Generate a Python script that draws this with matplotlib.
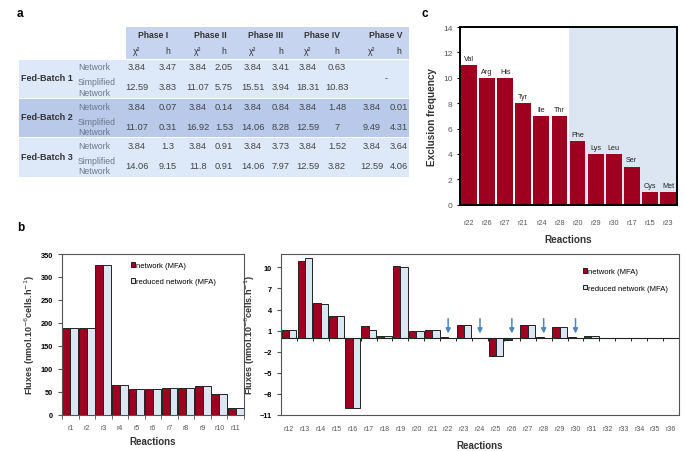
import numpy as np
import matplotlib
matplotlib.use("Agg")
import matplotlib.pyplot as plt
from matplotlib.patches import Rectangle

plt.rcParams['font.family'] = ['Liberation Sans', 'DejaVu Sans']

# ---------------- data ----------------
# panel a: table
phases = ["Phase I", "Phase II", "Phase III", "Phase IV", "Phase V"]
batches = ["Fed-Batch 1", "Fed-Batch 2", "Fed-Batch 3"]
fb1_network = ["3.84", "3.47", "3.84", "2.05", "3.84", "3.41", "3.84", "0.63", "", ""]
fb1_simplified = ["12.59", "3.83", "11.07", "5.75", "15.51", "3.94", "18.31", "10.83", "", ""]
fb2_network = ["3.84", "0.07", "3.84", "0.14", "3.84", "0.84", "3.84", "1.48", "3.84", "0.01"]
fb2_simplified = ["11.07", "0.31", "16.92", "1.53", "14.06", "8.28", "12.59", "7", "9.49", "4.31"]
fb3_network = ["3.84", "1.3", "3.84", "0.91", "3.84", "3.73", "3.84", "1.52", "3.84", "3.64"]
fb3_simplified = ["14.06", "9.15", "11.8", "0.91", "14.06", "7.97", "12.59", "3.82", "12.59", "4.06"]

# panel b, left
left_rxn = ["r1", "r2", "r3", "r4", "r5", "r6", "r7", "r8", "r9", "r10", "r11"]
left_network = [188, 188, 326, 65, 56, 56, 58, 59, 63, 46, 15]
left_reduced = [188, 188, 326, 65, 56, 56, 58, 59, 63, 46, 15]

# panel b, right
right_rxn = ["r%d" % i for i in range(12, 37)]
right_network = [1.15, 10.85, 4.9, 3.1, -10.0, 1.6, 0.3, 10.2, 0.95, 1.15, 0.1, 1.8, 0.0,
                 -2.65, -0.3, 1.8, 0.1, 1.5, 0.1, 0.3, 0, 0, 0, 0, 0]
right_reduced = [1.15, 11.4, 4.8, 3.1, -10.0, 1.15, 0.3, 10.1, 0.95, 1.15, 0.0, 1.8, 0.0,
                 -2.65, 0.0, 1.8, 0.0, 1.5, 0.0, 0.3, 0, 0, 0, 0, 0]
arrow_rxn = ["r22", "r24", "r26", "r28", "r30"]

# panel c
c_rxn = ["r22", "r26", "r27", "r21", "r24", "r28", "r20", "r29", "r30", "r17", "r15", "r23"]
c_amino = ["Val", "Arg", "His", "Tyr", "Ile", "Thr", "Phe", "Lys", "Leu", "Ser", "Cys", "Met"]
c_freq = [11, 10, 10, 8, 7, 7, 5, 4, 4, 3, 1, 1]

RED = "#a0001f"
LIGHT = "#dce6f2"
W, H = 685, 452


def px(l, t, r, b):
    return [l / W, 1 - b / H, (r - l) / W, (b - t) / H]


fig = plt.figure(figsize=(6.85, 4.52), dpi=100)

# ---------------- panel a: table ----------------
ax_t = fig.add_axes([0, 0, 1, 1])
ax_t.set_xlim(0, W)
ax_t.set_ylim(H, 0)
ax_t.axis("off")

ax_t.add_patch(Rectangle((126, 28), 283, 32, color="#c6d4ef", lw=0))
band_colors = ["#dde9f9", "#b9c9ea", "#dde9f9"]
for k, c in enumerate(band_colors):
    ax_t.add_patch(Rectangle((19, 60.5 + k * 39.3), 390, 38.5, color=c, lw=0))

col_x = [137, 168, 198, 224, 253, 281, 308, 337, 372, 399]
phase_x = [153, 210, 266, 322, 386]
for p, x in zip(phases, phase_x):
    ax_t.text(x, 35, p, ha="center", va="center", fontsize=6.2, fontweight="bold", color="#333333")
for j, x in enumerate(col_x):
    ax_t.text(x, 52, "χ²" if j % 2 == 0 else "h", ha="center", va="center",
              fontsize=6.2, color="#333333")

rows = [(fb1_network, fb1_simplified), (fb2_network, fb2_simplified), (fb3_network, fb3_simplified)]
for k, (name, (net, simp)) in enumerate(zip(batches, rows)):
    y0 = 60.5 + k * 39.3
    ax_t.text(21, y0 + 18, name, ha="left", va="center", fontsize=6.5,
              fontweight="bold", color="#333333")
    ax_t.text(78, y0 + 7.5, "Network", ha="left", va="center", fontsize=6.2, color="#6b7686")
    ax_t.text(78, y0 + 27.5, "Simplified\nNetwork", ha="left", va="center", fontsize=6.2,
              color="#6b7686", linespacing=1.2)
    for j, x in enumerate(col_x):
        ax_t.text(x, y0 + 7.5, net[j], ha="center", va="center", fontsize=6.7, color="#444444")
        ax_t.text(x, y0 + 27.5, simp[j], ha="center", va="center", fontsize=6.7, color="#444444")
ax_t.text(386, 79, "-", ha="center", va="center", fontsize=6.5, color="#444444")

# ---------------- panel c ----------------
ax_c = fig.add_axes(px(460, 28, 677, 205.7))
xc = np.arange(len(c_rxn))
ax_c.axvspan(5.55, 11.5, color=LIGHT, lw=0, zorder=0)
ax_c.bar(xc, c_freq, width=0.88, color=RED, zorder=2)
for x, v, a in zip(xc, c_freq, c_amino):
    ax_c.text(x, v + 0.25, a, ha="center", va="bottom", fontsize=5.2, color="#222222")
ax_c.set_xlim(-0.5, 11.5)
ax_c.set_ylim(0, 14)
ax_c.set_yticks(range(0, 15, 2))
ax_c.set_xticks(xc)
ax_c.set_xticklabels(c_rxn)
ax_c.tick_params(axis="x", length=0, labelsize=5.2, labelcolor="#555555", pad=10)
ax_c.tick_params(axis="y", length=2, labelsize=6, labelcolor="#555555")
for s in ax_c.spines.values():
    s.set_linewidth(1.4)
    s.set_color("black")
ax_c.set_xlabel("Reactions", fontsize=7.2, fontweight="bold", color="#333333", labelpad=6)
ax_c.set_ylabel("Exclusion frequency", fontsize=7.2, fontweight="bold", color="#333333", labelpad=4)

# ---------------- panel b, left ----------------
ylab = "Fluxes (nmol.10$^{-6}$cells.h$^{-1}$)"
ax_l = fig.add_axes(px(62, 255, 244, 415.7))
xl = np.arange(len(left_rxn))
ax_l.bar(xl - 0.24, left_network, width=0.48, color=RED, edgecolor="#222222", lw=0.7,
         label="network (MFA)")
ax_l.bar(xl + 0.24, left_reduced, width=0.48, color=LIGHT, edgecolor="#222222", lw=0.7,
         label="reduced network (MFA)")
ax_l.set_xlim(-0.5, len(left_rxn) - 0.5)
ax_l.set_ylim(0, 350)
ax_l.set_yticks(range(0, 351, 50))
ax_l.set_xticks(xl)
ax_l.set_xticklabels(left_rxn)
ax_l.set_xticks(np.arange(-0.5, len(left_rxn), 1), minor=True)
ax_l.tick_params(axis="x", which="major", length=0, labelsize=5, labelcolor="#555555", pad=7)
ax_l.tick_params(axis="x", which="minor", length=3, color="#555555")
ax_l.tick_params(axis="y", length=3, labelsize=5.3, color="#555555")
for t in ax_l.get_yticklabels():
    t.set_fontweight("bold")
for s in ax_l.spines.values():
    s.set_color("#555555")
    s.set_linewidth(0.8)
ax_l.set_xlabel("Reactions", fontsize=7, fontweight="bold", color="#333333", labelpad=3)
ax_l.set_ylabel(ylab, fontsize=6.5, fontweight="bold", color="#333333", labelpad=3)
ax_l.legend(loc="upper left", bbox_to_anchor=(0.36, 0.97), frameon=False, fontsize=5.5,
            handlelength=0.6, handleheight=0.6, handletextpad=0.15, labelspacing=1.2,
            borderaxespad=0)

# ---------------- panel b, right ----------------
ax_r = fig.add_axes(px(281, 255, 679, 416))
xr = np.arange(len(right_rxn))
ax_r.bar(xr - 0.23, right_network, width=0.46, color=RED, edgecolor="#222222", lw=0.7,
         label="network (MFA)")
ax_r.bar(xr + 0.23, right_reduced, width=0.46, color=LIGHT, edgecolor="#222222", lw=0.7,
         label="reduced network (MFA)")
ax_r.axhline(0, color="#222222", lw=0.8)
ax_r.vlines(np.arange(0.5, len(right_rxn) - 1, 1), -0.45, 0, color="#222222", lw=0.7)
for r in arrow_rxn:
    i = right_rxn.index(r)
    ax_r.annotate("", xy=(i, 0.6), xytext=(i, 2.7),
                  arrowprops=dict(arrowstyle="-|>", color="#4f86c0", lw=1.1,
                                  mutation_scale=7, shrinkA=0, shrinkB=0))
ax_r.set_xlim(-0.5, len(right_rxn) - 0.5)
ax_r.set_ylim(-11, 11.9)
ax_r.set_yticks(range(-11, 11, 3))
ax_r.set_xticks(xr)
ax_r.set_xticklabels(right_rxn)
ax_r.tick_params(axis="x", length=0, labelsize=5, labelcolor="#555555", pad=7)
ax_r.tick_params(axis="y", length=3, labelsize=5.3, color="#555555")
for t in ax_r.get_yticklabels():
    t.set_fontweight("bold")
for s in ax_r.spines.values():
    s.set_color("#555555")
    s.set_linewidth(0.8)
ax_r.set_xlabel("Reactions", fontsize=7, fontweight="bold", color="#333333", labelpad=6)
ax_r.set_ylabel(ylab, fontsize=6.5, fontweight="bold", color="#333333", labelpad=2)
ax_r.legend(loc="upper left", bbox_to_anchor=(0.75, 0.93), frameon=False, fontsize=5.5,
            handlelength=0.6, handleheight=0.6, handletextpad=0.15, labelspacing=1.2,
            borderaxespad=0)

# panel letters
fig.text(17 / W, 1 - 14 / H, "a", fontsize=8.5, fontweight="bold", va="center")
fig.text(422 / W, 1 - 14 / H, "c", fontsize=8.5, fontweight="bold", va="center")
fig.text(17 / W, 1 - 228 / H, "b", fontsize=8.5, fontweight="bold", va="center")

fig.savefig("out.png", dpi=100)
